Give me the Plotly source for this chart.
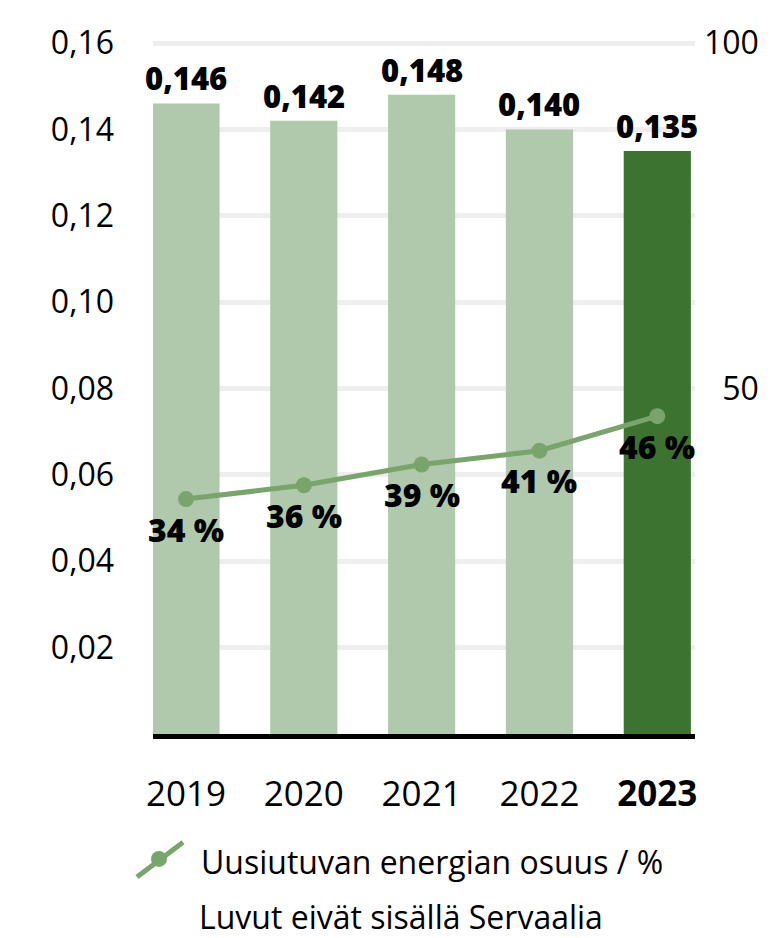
import plotly.graph_objects as go

# data
years = ["2019", "2020", "2021", "2022", "2023"]
year_labels = ["2019", "2020", "2021", "2022", "<b>2023</b>"]
intensity = [0.146, 0.142, 0.148, 0.140, 0.135]
renewable_pct = [34, 36, 39, 41, 46]
bar_colors = ["#b0c8ab", "#b0c8ab", "#b0c8ab", "#b0c8ab", "#3d7331"]

left_ticks = [0.02, 0.04, 0.06, 0.08, 0.10, 0.12, 0.14, 0.16]
right_ticks = [50, 100]
right_ticktext = ["\u200750", "100"]

FONT = "Open Sans"
LINE = "#79a56d"
Y_TOP = 0.1607  # a bit above 0.16 so the top grid line is not clipped

fig = go.Figure()

fig.add_trace(go.Bar(
    x=years, y=intensity, marker=dict(color=bar_colors, line=dict(width=0)),
    width=0.57, showlegend=False, hoverinfo="skip",
))

fig.add_trace(go.Scatter(
    x=years, y=renewable_pct, yaxis="y2", mode="lines+markers",
    line=dict(color=LINE, width=5), marker=dict(color=LINE, size=16),
    cliponaxis=False, showlegend=False, hoverinfo="skip",
))

# value labels above bars and below line points (x as category index)
for i, (v, p) in enumerate(zip(intensity, renewable_pct)):
    fig.add_annotation(
        x=i, y=v, text=f"{v:.3f}".replace(".", ","), showarrow=False,
        yanchor="bottom", yshift=2,
        font=dict(family=FONT, size=31, color="black", weight=800),
    )
    fig.add_annotation(
        x=i, y=p, yref="y2", text=f"{p} %", showarrow=False,
        yanchor="middle", yshift=-30,
        font=dict(family=FONT, size=32, color="black", weight=800),
    )

# hand-made legend key (diagonal line with dot) + notes
fig.add_shape(type="line", xref="paper", yref="paper",
              x0=-0.0295, y0=-0.206, x1=0.0554, y1=-0.156,
              line=dict(color=LINE, width=5))
fig.add_shape(type="circle", xref="paper", yref="paper",
              xsizemode="pixel", ysizemode="pixel", xanchor=0.0111, yanchor=-0.180,
              x0=-8, x1=8, y0=-8, y1=8, fillcolor=LINE, line=dict(width=0))
fig.add_annotation(xref="paper", yref="paper", x=0.085, y=-0.183, xanchor="left", yanchor="middle",
                   text="Uusiutuvan energian osuus / %", showarrow=False,
                   font=dict(family=FONT, size=32, color="black"))
fig.add_annotation(xref="paper", yref="paper", x=0.081, y=-0.263, xanchor="left", yanchor="middle",
                   text="Luvut eivät sisällä Servaalia", showarrow=False,
                   font=dict(family=FONT, size=32, color="black"))

# page body has an 8px margin, so the figure is 8px smaller and margins shifted
fig.update_layout(
    width=766, height=930,
    margin=dict(l=145, r=79, t=27, b=204),
    plot_bgcolor="white", paper_bgcolor="white",
    separators=", ",
    font=dict(family=FONT, size=32, color="black"),
    xaxis=dict(
        type="category", range=[-0.28, 4.32], tickvals=years, ticktext=year_labels,
        showgrid=False, showline=True, linecolor="black", linewidth=5,
        ticks="", ticklabelstandoff=25, tickfont=dict(size=35),
    ),
    yaxis=dict(
        range=[0, Y_TOP], tickvals=left_ticks, tickformat=".2f",
        showgrid=True, gridcolor="#eeeeee", gridwidth=5, zeroline=False,
        ticks="", ticklabelstandoff=38,
    ),
    yaxis2=dict(
        range=[0, 100 * Y_TOP / 0.16], overlaying="y", side="right",
        tickvals=right_ticks, ticktext=right_ticktext,
        showgrid=False, zeroline=False, ticks="", ticklabelstandoff=8,
    ),
)

fig.write_html("out.html")
